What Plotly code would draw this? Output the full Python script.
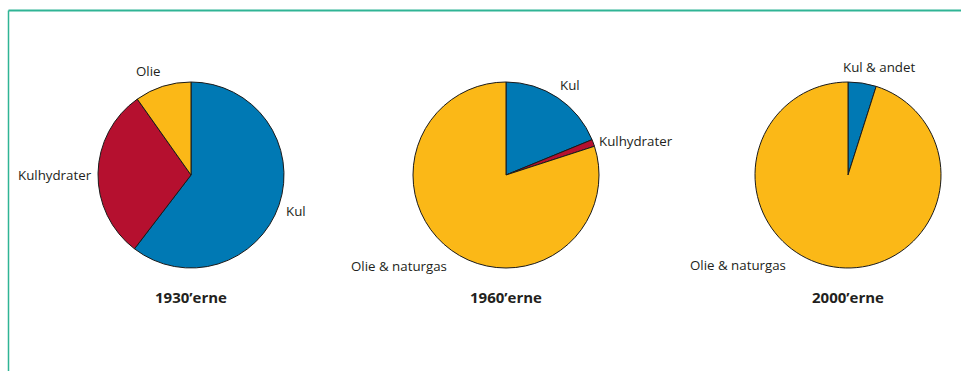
import plotly.graph_objects as go

W, H = 961, 371

# Energy mix per decade (share of total, %)
periods = ["1930’erne", "1960’erne", "2000’erne"]
labels_1930 = ["Kul", "Kulhydrater", "Olie"]
values_1930 = [60.4, 29.8, 9.8]
labels_1960 = ["Kul", "Kulhydrater", "Olie & naturgas"]
values_1960 = [18.8, 1.2, 80.0]
labels_2000 = ["Kul & andet", "Olie & naturgas"]
values_2000 = [4.9, 95.1]

BLUE, RED, YELLOW = "#0079b4", "#b5102f", "#fbb817"
colors_1930 = [BLUE, RED, YELLOW]
colors_1960 = [BLUE, RED, YELLOW]
colors_2000 = [BLUE, YELLOW]

TXT = "#231f20"
FONT = "Open Sans"

# pie centres (px) and radius
centres = [(191, 175), (506, 175), (848, 175)]
R = 93


def px(x, y):
    return x / W, 1 - y / H


fig = go.Figure()
for (cx, cy), labs, vals, cols in zip(
    centres,
    [labels_1930, labels_1960, labels_2000],
    [values_1930, values_1960, values_2000],
    [colors_1930, colors_1960, colors_2000],
):
    x0, y1 = px(cx - R, cy - R)
    x1, y0 = px(cx + R, cy + R)
    fig.add_trace(go.Pie(
        labels=labs, values=vals, sort=False, direction="clockwise",
        rotation=0, textinfo="none", hoverinfo="label+percent",
        marker=dict(colors=cols, line=dict(color="#1a1a1a", width=1)),
        domain=dict(x=[x0, x1], y=[y0, y1]), showlegend=False,
    ))

# slice labels: (text, x px, y px, anchor)
slice_labels = [
    ("Olie", 148, 71, "center"),
    ("Kulhydrater", 94, 175, "right"),
    ("Kul", 284, 211, "left"),
    ("Kul", 558, 85, "left"),
    ("Kulhydrater", 597, 141, "left"),
    ("Olie & naturgas", 349, 266, "left"),
    ("Kul & andet", 841, 67, "left"),
    ("Olie & naturgas", 688, 265, "left"),
]
annotations = []
for text, x, y, anc in slice_labels:
    ax, ay = px(x, y)
    annotations.append(dict(
        text=text, x=ax, y=ay, xref="paper", yref="paper",
        xanchor=anc, yanchor="middle", showarrow=False,
        font=dict(family=FONT, size=13.3, color=TXT),
    ))
for name, (cx, cy) in zip(periods, centres):
    ax, ay = px(cx, 297)
    annotations.append(dict(
        text="<b>" + name + "</b>", x=ax, y=ay, xref="paper", yref="paper",
        xanchor="center", yanchor="middle", showarrow=False,
        font=dict(family=FONT, size=15, color=TXT),
    ))

# green frame along top and left edge
GREEN = "#2fb495"
bx, by = px(8.5, 10.5)
shapes = [
    dict(type="line", xref="paper", yref="paper", x0=bx, y0=by, x1=1, y1=by,
         line=dict(color=GREEN, width=2)),
    dict(type="line", xref="paper", yref="paper", x0=bx, y0=by, x1=bx, y1=0,
         line=dict(color=GREEN, width=1.5)),
]

fig.update_layout(
    width=W, height=H, margin=dict(l=0, r=0, t=0, b=0),
    paper_bgcolor="white", plot_bgcolor="white",
    annotations=annotations, shapes=shapes,
)
fig.write_html("out.html")
